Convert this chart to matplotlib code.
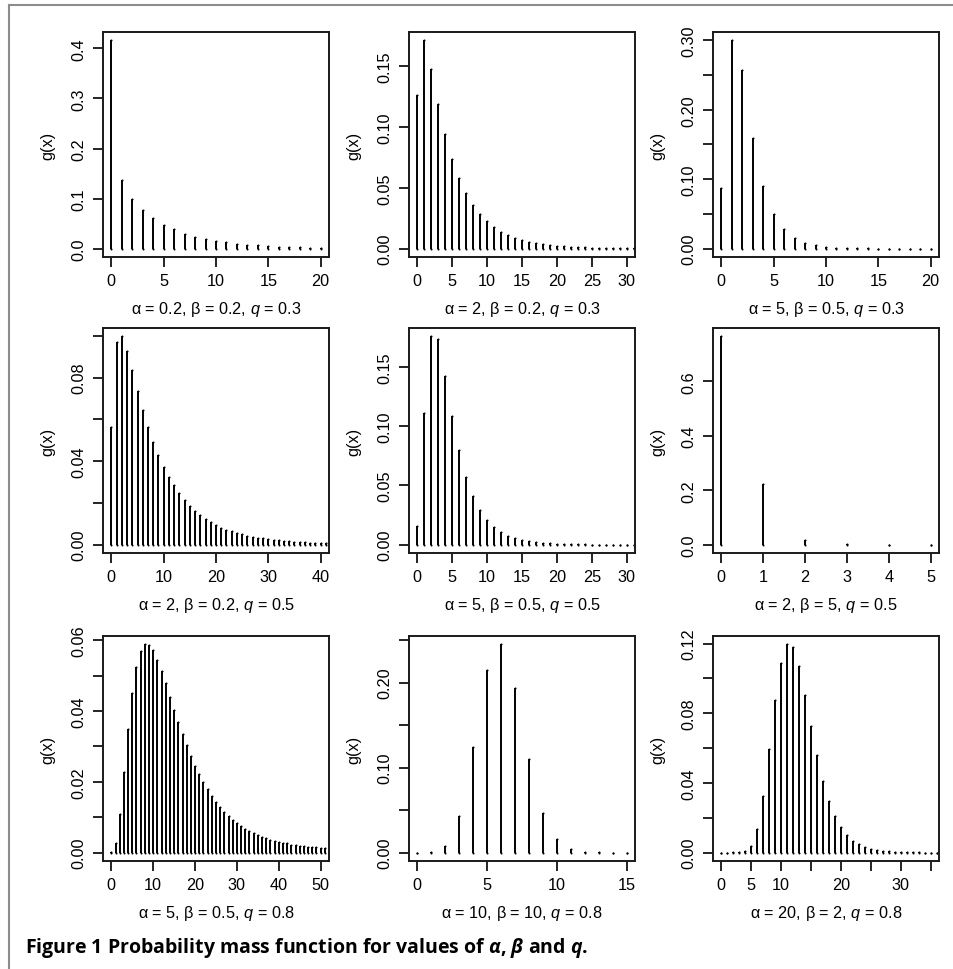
import numpy as np
import matplotlib
matplotlib.use('Agg')
import matplotlib.pyplot as plt
from matplotlib.lines import Line2D

plt.rcParams['font.family'] = ['Liberation Sans', 'DejaVu Sans']
plt.rcParams['mathtext.fontset'] = 'custom'
plt.rcParams['mathtext.rm'] = 'Liberation Sans'
plt.rcParams['mathtext.it'] = 'Liberation Sans:italic'
plt.rcParams['mathtext.bf'] = 'Open Sans:bold'
plt.rcParams['mathtext.bfit'] = 'Open Sans:italic:bold'

# ---------------- data ----------------
pmf1 = [0.416, 0.1364, 0.0998, 0.0772, 0.0606, 0.0479, 0.0386, 0.030, 0.024, 0.0193,
        0.0153, 0.0126, 0.0100, 0.0080, 0.0066, 0.0053, 0.0043, 0.0035, 0.0028, 0.0022, 0.0018]
pmf2 = [0.1262, 0.1711, 0.1473, 0.1185, 0.0939, 0.0739, 0.0583, 0.0460, 0.0361, 0.0285,
        0.0224, 0.0175, 0.0140, 0.0110, 0.0088, 0.0071, 0.0057, 0.0046, 0.0038, 0.0030,
        0.0025, 0.0020, 0.0016, 0.0013, 0.0010, 0.0008, 0.0006, 0.0005, 0.0004, 0.0003,
        0.00025, 0.0002]
pmf3 = [0.0878, 0.300, 0.2568, 0.1589, 0.0902, 0.0504, 0.0278, 0.0154, 0.0086, 0.0048,
        0.0027, 0.0015, 0.0008, 0.00045, 0.00025, 0.00014, 0.00008, 0.00004, 0.00002,
        0.00001, 0.000006]
pmf4 = [0.0563, 0.0971, 0.0998, 0.0930, 0.0835, 0.0738, 0.0646, 0.0565, 0.0493, 0.0430,
        0.0374, 0.0326, 0.0285, 0.0248, 0.0216, 0.0187, 0.0163, 0.0142, 0.0123, 0.0107,
        0.0093, 0.0082, 0.0072, 0.0064, 0.0056, 0.0050, 0.0043, 0.0038, 0.0034, 0.0030,
        0.0027, 0.0024, 0.0021, 0.0018, 0.0016, 0.0014, 0.0012, 0.0011, 0.0009, 0.0008,
        0.0007, 0.0006]
pmf5 = [0.0158, 0.1116, 0.1760, 0.1737, 0.1429, 0.1088, 0.0797, 0.0573, 0.0410, 0.0291,
        0.0206, 0.0147, 0.0105, 0.0073, 0.0054, 0.0040, 0.0028, 0.0020, 0.0014, 0.0010,
        0.0007, 0.0005, 0.00035, 0.00025, 0.00018, 0.00013, 0.00009, 0.00006, 0.00004,
        0.00003, 0.00002, 0.000015]
pmf6 = [0.766, 0.2226, 0.016, 0.0009, 0.00005, 0.000003]
pmf7 = [0.0003, 0.0028, 0.0110, 0.0227, 0.0349, 0.0451, 0.0525, 0.0568, 0.0588, 0.0587,
        0.0571, 0.0545, 0.0513, 0.0478, 0.0440, 0.0404, 0.0368, 0.0334, 0.0303, 0.0274,
        0.0246, 0.0222, 0.0199, 0.0179, 0.0160, 0.0144, 0.0129, 0.0116, 0.0103, 0.0093,
        0.0084, 0.0075, 0.0068, 0.0061, 0.0055, 0.0050, 0.0045, 0.0041, 0.0037, 0.0034,
        0.0031, 0.0028, 0.0026, 0.0023, 0.0021, 0.0020, 0.0018, 0.0017, 0.0016, 0.0015,
        0.0014, 0.0013]
pmf8 = [0.0001, 0.0004, 0.0078, 0.0431, 0.1243, 0.2149, 0.2451, 0.1933, 0.1098, 0.0471,
        0.0161, 0.0047, 0.0011, 0.0002, 0.00004, 0.00001]
pmf9 = [0.00001, 0.00005, 0.0001, 0.0003, 0.0011, 0.0038, 0.0138, 0.0325, 0.0593, 0.0875,
        0.1091, 0.1196, 0.1183, 0.1072, 0.0907, 0.0727, 0.0559, 0.0413, 0.0299, 0.0209,
        0.0145, 0.0100, 0.0069, 0.0048, 0.0033, 0.0023, 0.0016, 0.0011, 0.0007, 0.0005,
        0.0003, 0.0002, 0.00015, 0.0001, 0.00007, 0.00005, 0.00003]

panel_labels = [
    r"α = 0.2, β = 0.2, $q$ = 0.3",
    r"α = 2, β = 0.2, $q$ = 0.3",
    r"α = 5, β = 0.5, $q$ = 0.3",
    r"α = 2, β = 0.2, $q$ = 0.5",
    r"α = 5, β = 0.5, $q$ = 0.5",
    r"α = 2, β = 5, $q$ = 0.5",
    r"α = 5, β = 0.5, $q$ = 0.8",
    r"α = 10, β = 10, $q$ = 0.8",
    r"α = 20, β = 2, $q$ = 0.8",
]

x_ticks = [
    [0, 5, 10, 15, 20],
    [0, 5, 10, 15, 20, 25, 30],
    [0, 5, 10, 15, 20],
    [0, 10, 20, 30, 40],
    [0, 5, 10, 15, 20, 25, 30],
    [0, 1, 2, 3, 4, 5],
    [0, 10, 20, 30, 40, 50],
    [0, 5, 10, 15],
    [0, 5, 10, 15, 20, 25, 30, 35],
]
x_ticklabels = [
    ['0', '5', '10', '15', '20'],
    ['0', '5', '10', '15', '20', '25', '30'],
    ['0', '5', '10', '15', '20'],
    ['0', '10', '20', '30', '40'],
    ['0', '5', '10', '15', '20', '25', '30'],
    ['0', '1', '2', '3', '4', '5'],
    ['0', '10', '20', '30', '40', '50'],
    ['0', '5', '10', '15'],
    ['0', '5', '10', '', '20', '', '30', ''],
]
y_ticks = [
    [0.0, 0.1, 0.2, 0.3, 0.4],
    [0.0, 0.05, 0.10, 0.15],
    [0.0, 0.05, 0.10, 0.15, 0.20, 0.25, 0.30],
    [0.0, 0.02, 0.04, 0.06, 0.08, 0.10],
    [0.0, 0.05, 0.10, 0.15],
    [0.0, 0.2, 0.4, 0.6],
    [0.0, 0.01, 0.02, 0.03, 0.04, 0.05, 0.06],
    [0.0, 0.05, 0.10, 0.15, 0.20, 0.25],
    [0.0, 0.02, 0.04, 0.06, 0.08, 0.10, 0.12],
]
y_ticklabels = [
    ['0.0', '0.1', '0.2', '0.3', '0.4'],
    ['0.00', '0.05', '0.10', '0.15'],
    ['0.00', '', '0.10', '', '0.20', '', '0.30'],
    ['0.00', '', '0.04', '', '0.08', ''],
    ['0.00', '0.05', '0.10', '0.15'],
    ['0.0', '0.2', '0.4', '0.6'],
    ['0.00', '', '0.02', '', '0.04', '', '0.06'],
    ['0.00', '', '0.10', '', '0.20', ''],
    ['0.00', '', '0.04', '', '0.08', '', '0.12'],
]

caption = r"Figure 1 Probability mass function for values of $\mathbfit{\alpha}$, $\mathbfit{\beta}$ and $\mathbfit{q}$."

pmfs = [pmf1, pmf2, pmf3, pmf4, pmf5, pmf6, pmf7, pmf8, pmf9]

# ---------------- layout ----------------
W, H = 954, 970
fig = plt.figure(figsize=(W / 100, H / 100), dpi=100)

col_left = [103, 409, 713]
row_top = [33, 329, 637]
AW, AH = 226, 225

def rect(left, top):
    return [left / W, 1 - (top + AH) / H, AW / W, AH / H]

FS = 11.7
LW = 1.4
for i, pmf in enumerate(pmfs):
    r, c = divmod(i, 3)
    ax = fig.add_axes(rect(col_left[c], row_top[r]))
    xs = np.arange(len(pmf))
    ys = np.asarray(pmf)
    ax.vlines(xs, 0, ys, colors='black', lw=LW)
    # round line ends (as R's type="h" draws them); tiny values show as dots
    ax.plot(xs, np.zeros_like(ys), 'o', ms=LW * 1.05, mew=0, color='black')
    ax.plot(xs, ys, 'o', ms=LW * 1.05, mew=0, color='black')
    xr = x_ticks[i][-1] - x_ticks[i][0]
    ax.set_xlim(x_ticks[i][0] - 0.04 * xr, x_ticks[i][-1] + 0.04 * xr)
    ym = ys.max()
    ax.set_ylim(-0.04 * ym, 1.04 * ym)
    ax.set_xticks(x_ticks[i])
    ax.set_xticklabels(x_ticklabels[i], fontsize=FS)
    ax.set_yticks(y_ticks[i])
    ax.set_yticklabels(y_ticklabels[i], fontsize=FS, rotation=90, va='center')
    ax.tick_params(direction='out', length=7, width=1.2, color='black', pad=4.5)
    ax.tick_params(axis='y', pad=5)
    for sp in ax.spines.values():
        sp.set_linewidth(1.4)
        sp.set_color('#1a1a1a')
    ax.text(-55 / AW, 0.5, 'g(x)', rotation=90, ha='center', va='center',
            fontsize=FS, transform=ax.transAxes)
    ax.text(0.5, -52 / AH, panel_labels[i], ha='center', va='center',
            fontsize=FS, transform=ax.transAxes)

# caption
fig.text(25 / W, 1 - 948 / H, caption, ha='left', va='center', fontsize=14,
         family='Open Sans', weight='bold')

# frame lines (top and left)
fig.add_artist(Line2D([9 / W, 1.0], [1 - 6 / H, 1 - 6 / H], transform=fig.transFigure,
                      color='#8c8c8c', lw=1.5))
fig.add_artist(Line2D([9 / W, 9 / W], [0.0, 1 - 6 / H], transform=fig.transFigure,
                      color='#8c8c8c', lw=1.5))

fig.savefig('out.png', dpi=100)
